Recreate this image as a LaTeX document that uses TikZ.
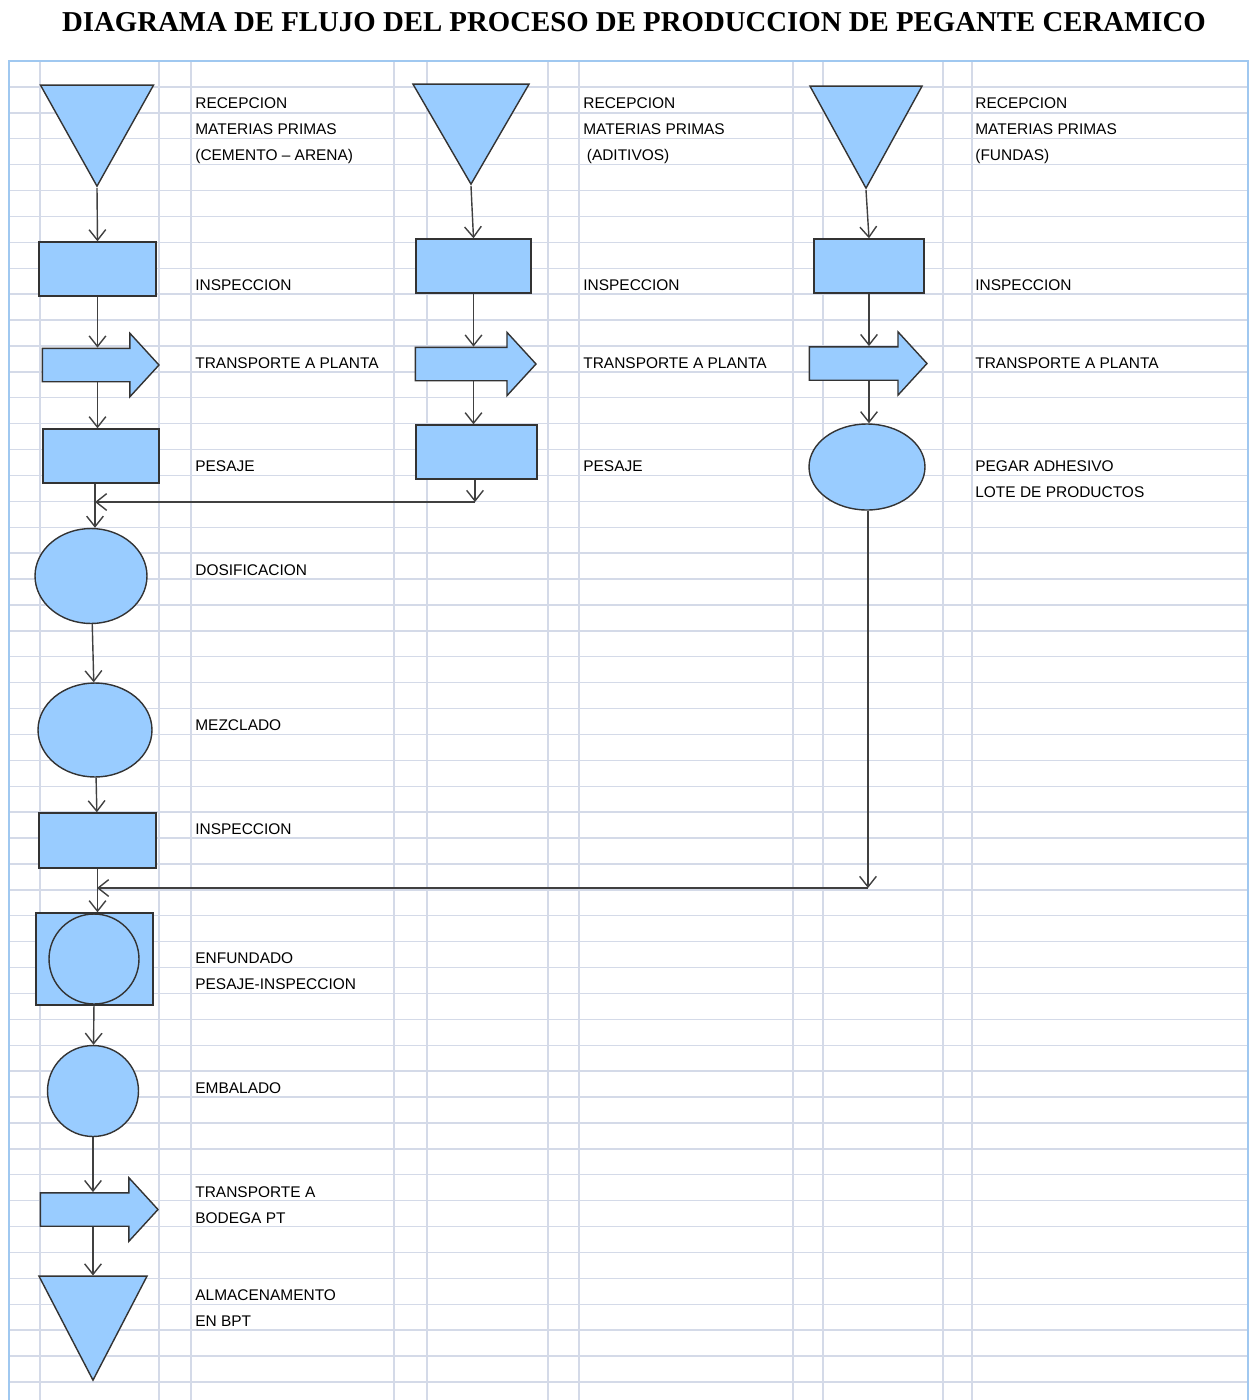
\documentclass[tikz,border=0pt]{standalone}
\usepackage{fontspec}
\setmainfont{Liberation Sans}
\newfontfamily\titlefont{Liberation Serif}
\usepackage{tikz}
\usetikzlibrary{shapes.geometric, shapes.arrows, arrows.meta}

\definecolor{relleno}{RGB}{153,204,255}
\definecolor{rejilla}{RGB}{212,218,232}
\definecolor{marco}{RGB}{160,200,240}
\definecolor{trazo}{RGB}{64,64,64}

\tikzset{
    rejillalinea/.style={rejilla, line width=0.8pt},
    marcolinea/.style={marco, line width=1.2pt},
    bloque/.style={draw=black!80, fill=relleno, line width=0.8pt, inner sep=0pt},
    caja/.style={bloque, rectangle, minimum height=1.08cm},
    elipse/.style={bloque, ellipse},
    circulo/.style={bloque, circle},
    almacen/.style={bloque, isosceles triangle, shape border rotate=270, isosceles triangle stretches},
    transporte/.style={bloque, single arrow, inner xsep=1cm, inner ysep=0.32cm, single arrow head extend=0.3cm, single arrow tip angle=95},
    etiqueta/.style={anchor=base west, inner sep=0pt, align=left, text=black, font=\fontsize{8.8}{14.7}\selectfont},
    conector/.style={-{Straight Barb[length=6pt, width=9.5pt]}, trazo, line width=0.8pt},
}

\begin{document}
\begin{tikzpicture}[x=0.02cm, y=-0.02cm]
        \useasboundingbox (0,0) rectangle (1255,1400);

        \node[anchor=base, font=\titlefont\bfseries\fontsize{16.4}{20}\selectfont] at (634,31) (titulo) {DIAGRAMA DE FLUJO DEL PROCESO DE PRODUCCION DE PEGANTE CERAMICO};

        \foreach \k in {1,...,51}
            \draw[rejillalinea] (10,{61+25.9*\k}) -- (1247,{61+25.9*\k});
        \foreach \gx in {40,159,191,394,427,548,579,793,823,943,972}
            \draw[rejillalinea] (\gx,62) -- (\gx,1400);
        \draw[marcolinea] (9,1400) -- (9,61) -- (1248,61) -- (1248,1400);

        \node[almacen, minimum width=2.26cm, minimum height=2.02cm, anchor=apex] at (97,188) (rec1) {};
        \node[caja, minimum width=2.34cm] at (97.5,269) (insp1) {};
        \node[transporte] at (93,365) (tr1) {};
        \node[caja, minimum width=2.32cm] at (101,456) (pes1) {};
        \node[elipse, minimum width=2.24cm, minimum height=1.9cm] at (91,576) (dos) {};
        \node[elipse, minimum width=2.28cm, minimum height=1.88cm] at (95,730) (mez) {};
        \node[caja, minimum width=2.34cm, minimum height=1.1cm] at (97.5,840.5) (insp4) {};
        \node[caja, minimum width=2.34cm, minimum height=1.84cm] at (94.5,959) (enf) {};
        \node[circulo, minimum size=1.8cm] at (94,959) (enfc) {};
        \node[circulo, minimum size=1.82cm] at (93,1091) (emb) {};
        \node[transporte, inner xsep=1.01cm] at (91.5,1209.5) (tr4) {};
        \node[almacen, minimum width=2.16cm, minimum height=2.08cm, anchor=apex] at (93,1382) (alm) {};

        \node[almacen, minimum width=2.32cm, minimum height=2cm, anchor=apex] at (471,186) (rec2) {};
        \node[caja, minimum width=2.3cm] at (473.5,266) (insp2) {};
        \node[transporte, inner xsep=1.04cm] at (468,364) (tr2) {};
        \node[caja, minimum width=2.42cm] at (476.5,452) (pes2) {};

        \node[almacen, minimum width=2.24cm, minimum height=2.04cm, anchor=apex] at (866,190) (rec3) {};
        \node[caja, minimum width=2.2cm] at (869,266) (insp3) {};
        \node[transporte, inner xsep=1.01cm] at (860.5,363.5) (tr3) {};
        \node[elipse, minimum width=2.32cm, minimum height=1.72cm] at (867,467) (peg) {};

        \coordinate (m1) at (95,502);
        \coordinate (c1) at (475,502);
        \coordinate (m2) at (97,888);
        \coordinate (c2) at (868,888);

        \node[etiqueta] at (195,160) (lrec1) {RECEPCION\\MATERIAS PRIMAS\\(CEMENTO – ARENA)};
        \node[etiqueta] at (195,290) (linsp1) {INSPECCION};
        \node[etiqueta] at (195,368) (ltr1) {TRANSPORTE A PLANTA};
        \node[etiqueta] at (195,471) (lpes1) {PESAJE};
        \node[etiqueta] at (195,575) (ldos) {DOSIFICACION};
        \node[etiqueta] at (195,730) (lmez) {MEZCLADO};
        \node[etiqueta] at (195,834) (linsp4) {INSPECCION};
        \node[etiqueta] at (195,989) (lenf) {ENFUNDADO\\PESAJE-INSPECCION};
        \node[etiqueta] at (195,1093) (lemb) {EMBALADO};
        \node[etiqueta] at (195,1223) (ltr4) {TRANSPORTE A\\BODEGA PT};
        \node[etiqueta] at (195,1326) (lalm) {ALMACENAMENTO\\EN BPT};

        \node[etiqueta] at (583,160) (lrec2) {RECEPCION\\MATERIAS PRIMAS\\\hspace{2pt}(ADITIVOS)};
        \node[etiqueta] at (583,290) (linsp2) {INSPECCION};
        \node[etiqueta] at (583,368) (ltr2) {TRANSPORTE A PLANTA};
        \node[etiqueta] at (583,471) (lpes2) {PESAJE};

        \node[etiqueta] at (975,160) (lrec3) {RECEPCION\\MATERIAS PRIMAS\\(FUNDAS)};
        \node[etiqueta] at (975,290) (linsp3) {INSPECCION};
        \node[etiqueta] at (975,368) (ltr3) {TRANSPORTE A PLANTA};
        \node[etiqueta] at (975,497) (lpeg) {PEGAR ADHESIVO\\LOTE DE PRODUCTOS};

        \draw[conector] (rec1.apex) -- (insp1.north);
        \draw[conector] (insp1.south) -- (insp1.south |- tr1.north);
        \draw[conector] (insp1.south |- tr1.south) -- (insp1.south |- pes1.north);
        \draw[conector] (pes1.south -| m1) -- (dos.north -| m1);
        \draw[conector] (dos) -- (mez);
        \draw[conector] (mez) -- (insp4);
        \draw[conector] (insp4.south) -- (insp4.south |- enf.north);
        \draw[conector] (enf) -- (emb);
        \draw[conector] (emb.south) -- (emb.south |- tr4.north);
        \draw[conector] (alm.north |- tr4.south) -- (alm.north);

        \draw[conector] (rec2.apex) -- (insp2.north);
        \draw[conector] (insp2.south) -- (insp2.south |- tr2.north);
        \draw[conector] (insp2.south |- tr2.south) -- (insp2.south |- pes2.north);
        \draw[conector] (pes2.south -| c1) -- (c1);
        \draw[conector] (c1) -- (m1);

        \draw[conector] (rec3.apex) -- (insp3.north);
        \draw[conector] (insp3.south) -- (insp3.south |- tr3.north);
        \draw[conector] (insp3.south |- tr3.south) -- (insp3.south |- peg.north);
        \draw[conector] (peg.south -| c2) -- (c2);
        \draw[conector] (c2) -- (m2);
    \end{tikzpicture}
\end{document}
